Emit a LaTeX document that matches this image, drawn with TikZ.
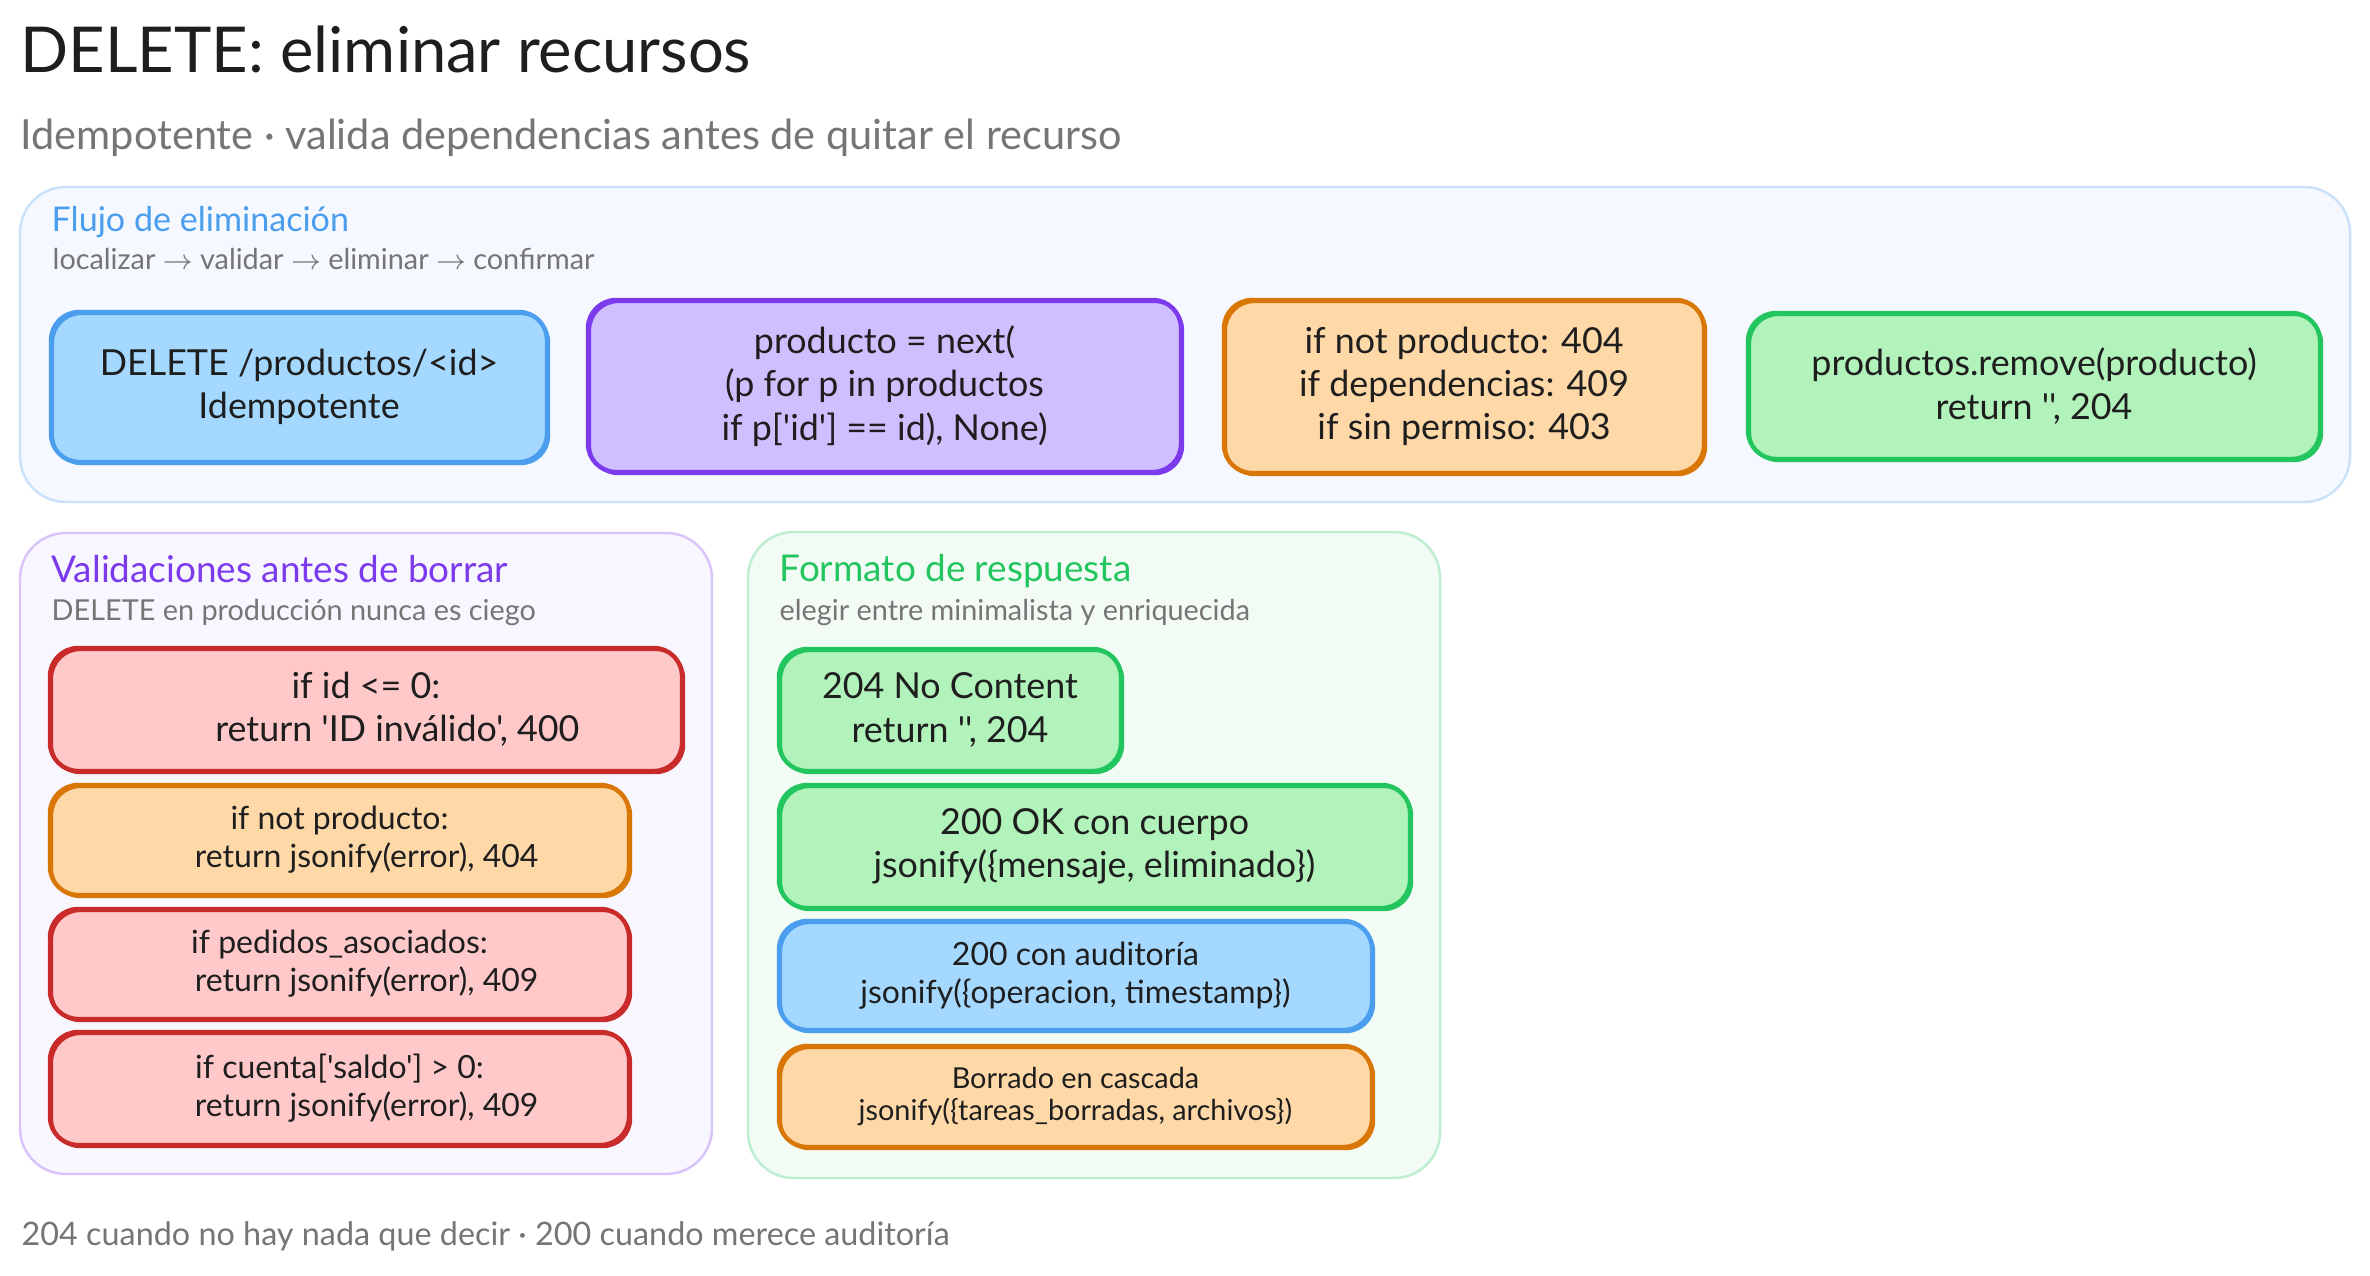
\documentclass[tikz,border=0pt]{standalone}
\usepackage{fontspec}
\usepackage{tikz}
\usetikzlibrary{positioning,calc}
\newfontfamily\handfont{Lato}
\definecolor{inkdark}{HTML}{1E1E1E}
\definecolor{inkgrey}{HTML}{757575}
\definecolor{bluestroke}{HTML}{4A9EED}
\definecolor{bluefill}{HTML}{A5D8FF}
\definecolor{violetstroke}{HTML}{7C3AED}
\definecolor{violetfill}{HTML}{D0BFFF}
\definecolor{amberstroke}{HTML}{D97706}
\definecolor{amberfill}{HTML}{FFD8A8}
\definecolor{greenstroke}{HTML}{22C55E}
\definecolor{greenfill}{HTML}{B2F2BB}
\definecolor{redstroke}{HTML}{C92A2A}
\definecolor{redfill}{HTML}{FFC9C9}
\definecolor{flowback}{HTML}{F5F8FF}
\definecolor{validback}{HTML}{F8F6FF}
\definecolor{replyback}{HTML}{F3FBF5}
\tikzset{
	card/.style={rectangle, rounded corners=8pt, line width=1.25pt, inner sep=0pt, align=center, text=inkdark,
		postaction={draw, line width=0.6pt, transform canvas={xshift=0.6pt, yshift=-0.6pt}}},
	panel/.style={rectangle, rounded corners=13pt, line width=0.7pt, inner sep=0pt},
	caption/.style={anchor=base west, inner sep=0pt},
	bigtext/.style={font=\handfont\fontsize{10.2}{12.3}\selectfont},
	midtext/.style={font=\handfont\fontsize{9.1}{10.8}\selectfont},
	smalltext/.style={font=\handfont\fontsize{8.2}{9.1}\selectfont},
	paneltitle/.style={caption, font=\handfont\fontsize{10.5}{12}\selectfont},
	panelsub/.style={caption, text=inkgrey, font=\handfont\fontsize{8.2}{9}\selectfont},
	bluecard/.style={card, draw=bluestroke, fill=bluefill},
	violetcard/.style={card, draw=violetstroke, fill=violetfill},
	ambercard/.style={card, draw=amberstroke, fill=amberfill},
	greencard/.style={card, draw=greenstroke, fill=greenfill},
	redcard/.style={card, draw=redstroke, fill=redfill}
}
\begin{document}
\begin{tikzpicture}
	\useasboundingbox[fill=white] (0,0) rectangle (23.7,12.75);

	% headings
	\node[caption, text=inkdark, font=\handfont\fontsize{18}{20}\selectfont] (title) at (0.2, 12.02) {DELETE: eliminar recursos};
	\node[caption, text=inkgrey, font=\handfont\fontsize{11.8}{13}\selectfont] (subtitle) at (0.2, 11.25) {Idempotente · valida dependencias antes de quitar el recurso};

	% flow panel
	\node[panel, draw=bluestroke!30, fill=flowback, minimum width=23.30cm, minimum height=3.15cm] (flowpanel) at (11.85, 9.305) {};
	\node[paneltitle, text=bluestroke, font=\handfont\fontsize{9.7}{12}\selectfont] (flowtitle) at (0.51, 10.43) {Flujo de eliminación};
	\node[panelsub] (flowsub) at (0.52, 10.05) {localizar $\rightarrow$ validar $\rightarrow$ eliminar $\rightarrow$ confirmar};

	\node[bluecard, bigtext, minimum width=4.96cm, minimum height=1.50cm] (route) at (2.99, 8.88) {DELETE /productos/<id>\\Idempotente};
	\node[violetcard, bigtext, minimum width=5.93cm, minimum height=1.72cm] (lookup) at (8.845, 8.89) {producto = next(\\(p for p in productos\\if p['id'] == id), None)};
	\node[ambercard, bigtext, minimum width=4.80cm, minimum height=1.73cm] (checks) at (14.64, 8.885) {if not producto: 404\\if dependencias: 409\\if sin permiso: 403};
	\node[greencard, bigtext, minimum width=5.72cm, minimum height=1.46cm] (removal) at (20.34, 8.89) {productos.remove(producto)\\return '', 204};

	% validations panel
	\node[panel, draw=violetstroke!30, fill=validback, minimum width=6.92cm, minimum height=6.41cm] (validpanel) at (3.66, 4.215) {};
	\node[paneltitle, text=violetstroke] (validtitle) at (0.51, 6.93) {Validaciones antes de borrar};
	\node[panelsub] (validsub) at (0.51, 6.55) {DELETE en producción nunca es ciego};

	\node[redcard, bigtext, minimum width=6.32cm, minimum height=1.23cm] (badid) at (3.66, 5.655) {if id <= 0:\\\hspace*{1.75em}return 'ID inválido', 400};
	\node[ambercard, midtext, minimum width=5.79cm, minimum height=1.10cm] (noprod) at (3.395, 4.35) {if not producto:\\\hspace*{1.7em}return jsonify(error), 404};
	\node[redcard, midtext, minimum width=5.79cm, minimum height=1.10cm] (orders) at (3.395, 3.11) {if pedidos\_asociados:\\\hspace*{1.7em}return jsonify(error), 409};
	\node[redcard, midtext, minimum width=5.79cm, minimum height=1.13cm] (balance) at (3.395, 1.865) {if cuenta['saldo'] > 0:\\\hspace*{1.7em}return jsonify(error), 409};

	% response panel
	\node[panel, draw=greenstroke!30, fill=replyback, minimum width=6.92cm, minimum height=6.46cm] (replypanel) at (10.94, 4.20) {};
	\node[paneltitle, text=greenstroke] (replytitle) at (7.79, 6.94) {Formato de respuesta};
	\node[panelsub] (replysub) at (7.79, 6.55) {elegir entre minimalista y enriquecida};

	\node[greencard, bigtext, minimum width=3.42cm, minimum height=1.22cm] (nocontent) at (9.50, 5.65) {204 No Content\\return '', 204};
	\node[greencard, bigtext, minimum width=6.31cm, minimum height=1.23cm] (okbody) at (10.945, 4.285) {200 OK con cuerpo\\jsonify(\{mensaje, eliminado\})};
	\node[bluecard, midtext, minimum width=5.93cm, minimum height=1.09cm] (audit) at (10.755, 2.995) {200 con auditoría\\jsonify(\{operacion, timestamp\})};
	\node[ambercard, smalltext, minimum width=5.93cm, minimum height=1.01cm] (cascade) at (10.755, 1.785) {Borrado en cascada\\jsonify(\{tareas\_borradas, archivos\})};

	% footer
	\node[caption, text=inkgrey, font=\handfont\fontsize{9.2}{10}\selectfont] (footer) at (0.21, 0.30) {204 cuando no hay nada que decir · 200 cuando merece auditoría};
\end{tikzpicture}
\end{document}
